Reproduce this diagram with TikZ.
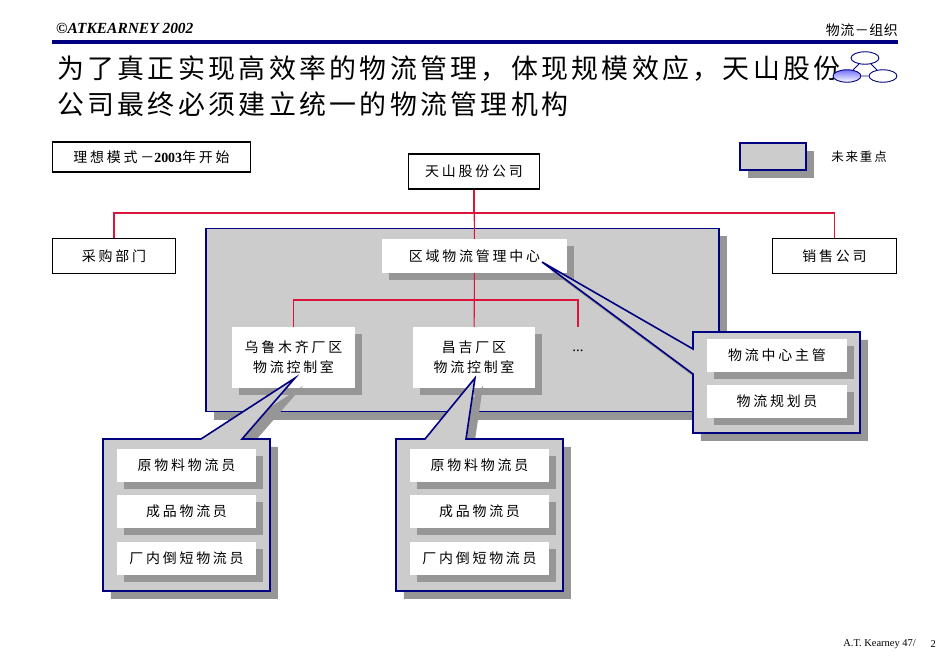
\documentclass[tikz,border=0pt]{standalone}
\usepackage{fontspec}
\usepackage{xcolor}
\setmainfont{Noto Sans CJK SC}
\newfontfamily\latinfont{Liberation Serif}
\usetikzlibrary{shapes.geometric,shadows}
\definecolor{navyline}{HTML}{000080}
\definecolor{redline}{HTML}{DC143C}
\definecolor{panelgray}{HTML}{CCCCCC}
\definecolor{shadegray}{HTML}{969696}
\tikzset{
  boxshadow/.style={drop shadow={shadow xshift=#1,shadow yshift=-#1,opacity=1,fill=shadegray}},
  label/.style={font=\fontsize{14}{20}\selectfont\addfontfeature{LetterSpace=20},align=center,inner sep=0pt},
  outerbox/.style={label,draw=black,line width=1.3pt,fill=white},
  whitebox/.style={label,fill=white,boxshadow=7pt},
  panel/.style={draw=navyline,line width=1.6pt,fill=panelgray,boxshadow=8pt},
  orgline/.style={draw=redline,line width=1.1pt},
  iconshape/.style={ellipse,draw=navyline,line width=0.9pt,fill=white,minimum width=28pt,minimum height=12.5pt,inner sep=0pt},
}
\begin{document}
\begin{tikzpicture}[x=1bp,y=-1bp]
    \useasboundingbox (0,0) rectangle (950,656);
    % Header
    \node[anchor=west,inner sep=0pt,font=\fontsize{15.5}{18}\selectfont\latinfont\bfseries\itshape] (copyright) at (56,28) {©ATKEARNEY 2002};
    \node[anchor=east,inner sep=0pt,font=\fontsize{14}{18}\selectfont\addfontfeature{LetterSpace=4}] (section) at (898,30) {物流－组织};
    \fill[navyline] (52,40) rectangle (898,44.5);
    \node[anchor=west,inner sep=0pt,font=\fontsize{27}{32}\selectfont\addfontfeature{LetterSpace=12.5}] (titleone) at (57,69) {为了真正实现高效率的物流管理，体现规模效应，天山股份};
    \node[anchor=west,inner sep=0pt,font=\fontsize{27}{32}\selectfont\addfontfeature{LetterSpace=12.5}] (titletwo) at (57,104) {公司最终必须建立统一的物流管理机构};
    % Icon
    \node[iconshape] (icontop) at (865,58) {};
    \node[iconshape,top color=blue!55!white,bottom color=white] (iconleft) at (847,76) {};
    \node[iconshape] (iconright) at (883,76) {};
    \draw[navyline,line width=0.9pt] (icontop) -- (iconleft) (icontop) -- (iconright) (iconleft) -- (iconright);
    % Legend
    \node[outerbox,minimum width=199pt,minimum height=30pt] (mode) at (151.5,157) {理想模式－{\latinfont\bfseries 2003}年开始};
    \node[panel,minimum width=66pt,minimum height=27pt,inner sep=0pt] (legendbox) at (773,156.5) {};
    \node[label,font=\fontsize{12.5}{16}\selectfont\addfontfeature{LetterSpace=15}] (legendtext) at (859,157) {未来重点};
    % Top level
    \node[panel,minimum width=515pt,minimum height=184pt,inner sep=0pt] (center) at (462.5,320) {};
    \node[outerbox,minimum width=132pt,minimum height=35pt] (group) at (474,171.5) {天山股份公司};
    \node[outerbox,minimum width=124pt,minimum height=35pt] (purchase) at (114,256) {采购部门};
    \node[outerbox,minimum width=125pt,minimum height=35pt] (sales) at (834.5,256) {销售公司};
    % Inside the panel
    \node[whitebox,minimum width=185pt,minimum height=34pt] (logistics) at (474.5,256) {区域物流管理中心};
    \node[whitebox,minimum width=123pt,minimum height=61pt] (urumqi) at (293.5,357.5) {乌鲁木齐厂区\\物流控制室};
    \node[whitebox,minimum width=122pt,minimum height=61pt] (changji) at (474,357.5) {昌吉厂区\\物流控制室};
    \node[inner sep=0pt,font=\fontsize{15}{18}\selectfont\latinfont] (more) at (578,351) {...};
    \coordinate (moretop) at (578,327);
    % Lines
    \draw[orgline] (group) -- (logistics);
    \draw[orgline] (group.south) |- (474,213) -| (purchase.north);
    \draw[orgline] (group.south) |- (474,213) -| (sales.north);
    \draw[orgline] (logistics) -- (changji);
    \draw[orgline] (urumqi.north) |- (474,300) -| (moretop);
    % Callouts
    \draw[panel,line join=miter] (103,439) -- (201,439) -- (295,378) -- (242,439) -- (270,439) -- (270,591) -- (103,591) -- cycle;
    \draw[panel,line join=miter] (396,439) -- (425,439) -- (475,378) -- (466,439) -- (563,439) -- (563,591) -- (396,591) -- cycle;
    \draw[panel,line join=miter] (693,332) -- (860,332) -- (860,433) -- (693,433) -- (693,374) -- (542,262) -- (693,349) -- cycle;
    % Left staff
    \node[whitebox,minimum width=139pt,minimum height=33pt] (rawone) at (186.5,465.5) {原物料物流员};
    \node[whitebox,minimum width=139pt,minimum height=33pt] (goodsone) at (186.5,511.5) {成品物流员};
    \node[whitebox,minimum width=139pt,minimum height=33pt] (shortone) at (186.5,558.5) {厂内倒短物流员};
    % Middle staff
    \node[whitebox,minimum width=139pt,minimum height=33pt] (rawtwo) at (479.5,465.5) {原物料物流员};
    \node[whitebox,minimum width=139pt,minimum height=33pt] (goodstwo) at (479.5,511.5) {成品物流员};
    \node[whitebox,minimum width=139pt,minimum height=33pt] (shorttwo) at (479.5,558.5) {厂内倒短物流员};
    % Right staff
    \node[whitebox,minimum width=140pt,minimum height=33pt] (chief) at (777,355.5) {物流中心主管};
    \node[whitebox,minimum width=140pt,minimum height=33pt] (planner) at (777,401.5) {物流规划员};
    % Footer
    \node[anchor=east,inner sep=0pt,font=\fontsize{10.5}{13}\selectfont\latinfont] (footer) at (916,644) {A.T. Kearney 47/};
    \node[anchor=east,inner sep=0pt,font=\fontsize{10.5}{13}\selectfont\latinfont] (pagenum) at (936,644) {2};
\end{tikzpicture}
\end{document}
